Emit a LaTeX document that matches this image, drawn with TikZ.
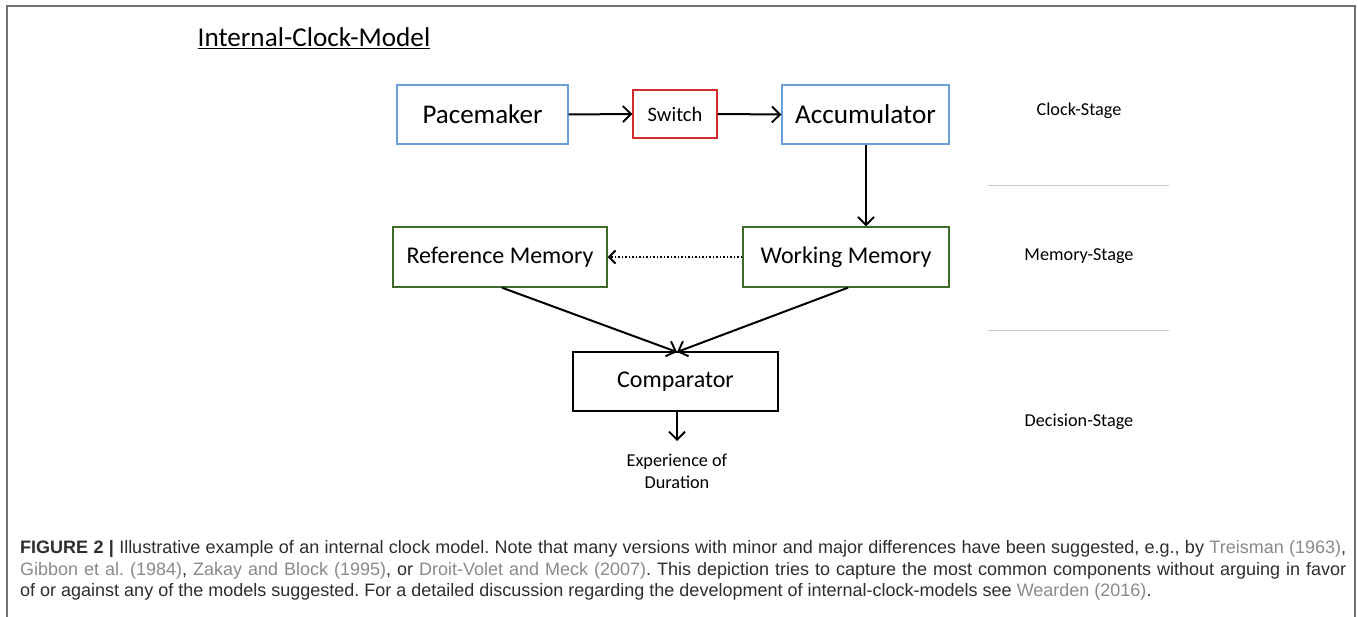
\documentclass[tikz,border=0pt]{standalone}
\usepackage{fontspec}
\setmainfont{Carlito}
\newfontfamily\capfont{Liberation Sans}
\usetikzlibrary{arrows.meta}
\definecolor{boxblue}{HTML}{6A9FD8}
\definecolor{boxred}{HTML}{D42A2A}
\definecolor{boxgreen}{HTML}{3E6B2A}
\definecolor{citegray}{HTML}{8A8A8A}
\definecolor{captext}{HTML}{2E2E2E}
\definecolor{framegray}{HTML}{707070}
\definecolor{sepgray}{HTML}{C8C8C8}
\tikzset{
  box/.style={draw, line width=1.4pt, inner sep=0pt, fill=white},
  arr/.style={line width=2pt, -{Straight Barb[length=8pt,width=16pt,line width=1.9pt]}},
  darr/.style={line width=1.5pt, dotted, -{Straight Barb[length=6.5pt,width=13pt,line width=1.9pt]}},
  stage/.style={font=\fontsize{18.2}{22}\selectfont, anchor=center},
  cite/.style={text=citegray}
}
\begin{document}
\begin{tikzpicture}[x=1pt,y=-1pt]
\useasboundingbox (0,0) rectangle (1358,617);
\fill[white] (0,0) rectangle (1358,617);
% frame
\draw[framegray, line width=1.6pt] (7,617) -- (7,6) -- (1355,6) -- (1355,617);
% title
\node[font=\fontsize{27.2}{30}\selectfont, anchor=center] (title) at (314,38) {\underline{Internal-Clock-Model}};
% boxes
\node[box, draw=boxblue, minimum width=171pt, minimum height=59pt, font=\fontsize{27}{30}\selectfont] (pace) at (482.5,114.5) {Pacemaker};
\node[box, draw=boxred, minimum width=84pt, minimum height=48pt, font=\fontsize{20.5}{24}\selectfont] (switch) at (675,114) {Switch};
\node[box, draw=boxblue, minimum width=167pt, minimum height=59pt, font=\fontsize{27.2}{30}\selectfont] (acc) at (865.5,114.5) {Accumulator};
\node[box, draw=boxgreen, minimum width=214pt, minimum height=60pt, font=\fontsize{24}{28}\selectfont] (ref) at (500,257) {Reference Memory};
\node[box, draw=boxgreen, minimum width=206pt, minimum height=60pt, font=\fontsize{24}{28}\selectfont] (work) at (846,257) {Working Memory};
\node[box, draw=black, minimum width=205pt, minimum height=59pt, font=\fontsize{24}{28}\selectfont] (comp) at (675.5,381.5) {Comparator};
\node[font=\fontsize{18.2}{21.5}\selectfont, align=center, anchor=center] (exp) at (677,471.5) {Experience of\\Duration};
% connectors
\draw[arr] (pace.east) -- (switch.west);
\draw[arr] (switch.east) -- (acc.west);
\draw[arr] (acc.south -| 866,0) -- (work.north -| 866,0);
\draw[darr] (work.west) -- (ref.east);
\coordinate (cin) at (677,352);
\draw[arr] (ref.south -| 502,0) -- (cin);
\draw[arr] (work.south -| 848,0) -- (cin);
\draw[arr] (comp.south -| 677,0) -- (677,441) coordinate (eout);
% stage labels
\node[stage] (s1) at (1079,111) {Clock-Stage};
\node[stage] (s2) at (1079,256) {Memory-Stage};
\node[stage] (s3) at (1079,422) {Decision-Stage};
\draw[sepgray, line width=0.8pt] (988,185) -- (1169,185);
\draw[sepgray, line width=0.8pt] (988,330) -- (1169,330);
% caption
\node[anchor=north west, inner sep=0pt, text width=1326pt, align=justify, text=captext,
      font=\capfont\fontsize{18}{21.8}\selectfont\frenchspacing] (cap) at (20,540)
{\textbf{FIGURE 2 |} Illustrative example of an internal clock model. Note that many versions with minor and major differences have been suggested, e.g., by {\color{citegray}Treisman (1963)},\linebreak
{\color{citegray}Gibbon et~al. (1984)}, {\color{citegray}Zakay and Block (1995)}, or {\color{citegray}Droit-Volet and Meck (2007)}. This depiction tries to capture the most common components without arguing in favor\linebreak
of or against any of the models suggested. For a detailed discussion regarding the development of internal-clock-models see {\color{citegray}Wearden (2016)}.};
\end{tikzpicture}
\end{document}
